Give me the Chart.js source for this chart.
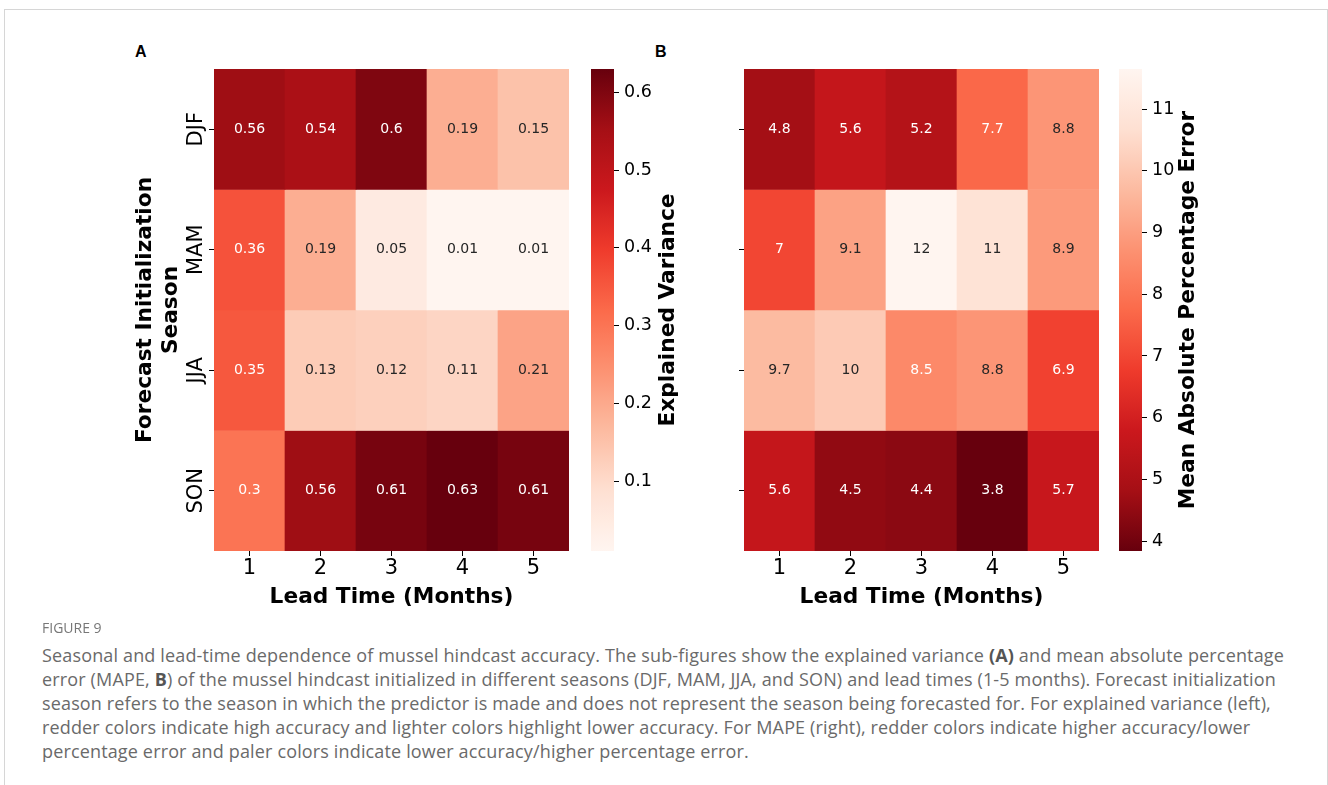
<!DOCTYPE html>
<html>
<head>
<meta charset="utf-8">
<script src="https://cdn.jsdelivr.net/npm/chart.js@4.4.0/dist/chart.umd.min.js"></script>
<style>
  html, body { margin: 0; padding: 0; background: #fff; }
  body { width: 1328px; height: 785px; position: relative; overflow: hidden; }
  .frame { position: absolute; left: 4px; top: 9px; width: 1324px; height: 800px; border: 1px solid #d6d6d6; box-sizing: border-box; }
  canvas { position: absolute; }
  .letter { position: absolute; font-family: "Liberation Sans", Arial, sans-serif; font-weight: bold; font-size: 16px; color: #000; line-height: 16px; }
  .fig-no { position: absolute; left: 42px; top: 618px; font-family: "Open Sans", sans-serif; font-size: 14px; color: #777; line-height: 20px; }
  .caption { position: absolute; left: 42px; top: 643px; font-family: "Open Sans", sans-serif; font-size: 18px; letter-spacing: 0.15px; color: #6a6a6a; line-height: 24px; white-space: nowrap; }
  .caption b { color: #555; }
</style>
</head>
<body>
<div class="frame"></div>
<div class="letter" style="left:135px; top:44px;">A</div>
<div class="letter" style="left:655px; top:44px;">B</div>

<canvas id="heatA" width="480" height="590" style="left:100px; top:40px;"></canvas>
<canvas id="barA" width="110" height="590" style="left:584px; top:40px;"></canvas>
<canvas id="heatB" width="480" height="590" style="left:630px; top:40px;"></canvas>
<canvas id="barB" width="110" height="590" style="left:1112px; top:40px;"></canvas>

<div class="fig-no">FIGURE 9</div>
<div class="caption">
Seasonal and lead-time dependence of mussel hindcast accuracy. The sub-figures show the explained variance <b>(A)</b> and mean absolute percentage<br>
error (MAPE, <b>B</b>) of the mussel hindcast initialized in different seasons (DJF, MAM, JJA, and SON) and lead times (1-5 months). Forecast initialization<br>
season refers to the season in which the predictor is made and does not represent the season being forecasted for. For explained variance (left),<br>
redder colors indicate high accuracy and lighter colors highlight lower accuracy. For MAPE (right), redder colors indicate higher accuracy/lower<br>
percentage error and paler colors indicate lower accuracy/higher percentage error.
</div>

<script>
// Forecast initialization seasons (rows) and lead times (columns)
const SEASONS = ["DJF", "MAM", "JJA", "SON"];
const LEADS = ["1", "2", "3", "4", "5"];

// Explained variance, one array per season
const ev_djf = [0.56, 0.54, 0.60, 0.19, 0.15];
const ev_mam = [0.36, 0.19, 0.05, 0.01, 0.01];
const ev_jja = [0.35, 0.13, 0.12, 0.11, 0.21];
const ev_son = [0.30, 0.56, 0.61, 0.63, 0.61];

// Mean absolute percentage error, one array per season
const mape_djf = [4.8, 5.6, 5.2, 7.7, 8.8];
const mape_mam = [7.0, 9.1, 11.65, 10.8, 8.9];
const mape_jja = [9.7, 10.1, 8.5, 8.8, 6.9];
const mape_son = [5.6, 4.5, 4.4, 3.84, 5.7];

// Colorbar tick labels
const EV_TICKS = [0.1, 0.2, 0.3, 0.4, 0.5, 0.6];
const MAPE_TICKS = [4, 5, 6, 7, 8, 9, 10, 11];

const EV_ROWS = [ev_djf, ev_mam, ev_jja, ev_son];
const MAPE_ROWS = [mape_djf, mape_mam, mape_jja, mape_son];

// matplotlib "Reds" anchor colours
const REDS = [[255,245,240],[254,224,210],[252,187,161],[252,146,114],[251,106,74],
              [239,59,44],[203,24,29],[165,15,21],[103,0,13]];

const TITLE_SIZE = 21.7;

Chart.defaults.font.family = "'DejaVu Sans', sans-serif";
Chart.defaults.color = "#000";

function redsRgb(t) {
  t = Math.max(0, Math.min(1, t));
  let p = t * (REDS.length - 1);
  let i = Math.min(REDS.length - 2, Math.floor(p));
  let f = p - i;
  return REDS[i].map((c, k) => Math.round(c + (REDS[i + 1][k] - c) * f));
}

function rgbStr(c) { return "rgb(" + c[0] + "," + c[1] + "," + c[2] + ")"; }

// same rule seaborn uses to pick the annotation colour
function luminance(c) {
  let lin = c.map(v => { v = v / 255; return v <= 0.03928 ? v / 12.92 : Math.pow((v + 0.055) / 1.055, 2.4); });
  return 0.2126 * lin[0] + 0.7152 * lin[1] + 0.0722 * lin[2];
}

function fmt2g(v) { return String(Number(v.toPrecision(2))); }

function rangeOf(rows) {
  let all = rows.flat();
  return [Math.min(...all), Math.max(...all)];
}

function makeHeatmap(id, rows, cellRgb, showLabels) {
  const cellText = {
    id: "cellText",
    afterDatasetsDraw(chart) {
      const ctx = chart.ctx;
      ctx.save();
      ctx.font = "14px 'DejaVu Sans'";
      ctx.textAlign = "center";
      ctx.textBaseline = "middle";
      rows.forEach((row, r) => {
        chart.getDatasetMeta(r).data.forEach((bar, c) => {
          const p = bar.getProps(["x", "y", "base"], true);
          const col = cellRgb(row[c]);
          ctx.fillStyle = luminance(col) > 0.408 ? "rgb(38,38,38)" : "#fff";
          ctx.fillText(fmt2g(row[c]), p.x, (p.y + p.base) / 2);
        });
      });
      ctx.restore();
    }
  };

  return new Chart(document.getElementById(id), {
    type: "bar",
    data: {
      labels: LEADS,
      datasets: rows.map((row, r) => ({
        data: row.map(() => [r, r + 1]),
        backgroundColor: row.map(v => rgbStr(cellRgb(v))),
        borderWidth: 0,
        barPercentage: 1,
        categoryPercentage: 1,
        grouped: false
      }))
    },
    options: {
      responsive: false,
      animation: false,
      layout: { padding: { left: 0, right: 11, top: 29, bottom: 0 } },
      plugins: { legend: { display: false }, tooltip: { enabled: false } },
      scales: {
        x: {
          grid: { offset: false, drawOnChartArea: false, drawTicks: true, tickLength: 5, color: "#000" },
          border: { display: false },
          ticks: { font: { size: 21 }, padding: 0, maxRotation: 0 },
          title: { display: true, text: "Lead Time (Months)", font: { size: TITLE_SIZE, weight: "bold", lineHeight: 1.2 }, padding: { top: 0, bottom: 20 } },
          afterFit: s => { s.height = 79; }
        },
        y: {
          min: 0, max: SEASONS.length, reverse: true,
          grid: { drawOnChartArea: false, drawTicks: true, tickLength: 5, color: "#000" },
          border: { display: false },
          afterBuildTicks: s => { s.ticks = SEASONS.map((n, i) => ({ value: i + 0.5 })); },
          ticks: {
            font: { size: 21 }, minRotation: 90, maxRotation: 90, crossAlign: "center", padding: -13,
            callback: (v, i) => showLabels ? SEASONS[i] : ""
          },
          title: {
            display: showLabels, text: ["Forecast Initialization", "Season"],
            font: { size: TITLE_SIZE, weight: "bold", lineHeight: 1.2 }, padding: { top: 32, bottom: 0 }
          },
          afterFit: s => { s.width = 114; }
        }
      }
    },
    plugins: [cellText]
  });
}

function makeColorbar(id, range, ticks, reversed, label, labelOffset) {
  const cbLabel = {
    id: "cbLabel",
    afterDraw(chart) {
      const ctx = chart.ctx;
      const a = chart.chartArea;
      ctx.save();
      ctx.translate(a.right + labelOffset, (a.top + a.bottom) / 2);
      ctx.rotate(-Math.PI / 2);
      ctx.font = "bold " + TITLE_SIZE + "px 'DejaVu Sans'";
      ctx.textAlign = "center";
      ctx.textBaseline = "middle";
      ctx.fillStyle = "#000";
      ctx.fillText(label, 0, 0);
      ctx.restore();
    }
  };

  return new Chart(document.getElementById(id), {
    type: "bar",
    data: {
      labels: [""],
      datasets: [{
        data: [[range[0], range[1]]],
        borderWidth: 0,
        barPercentage: 1,
        categoryPercentage: 1,
        backgroundColor: (context) => {
          const area = context.chart.chartArea;
          if (!area) return null;
          const g = context.chart.ctx.createLinearGradient(0, area.bottom, 0, area.top);
          for (let k = 0; k <= 32; k++) {
            let t = k / 32;
            g.addColorStop(t, rgbStr(redsRgb(reversed ? 1 - t : t)));
          }
          return g;
        }
      }]
    },
    options: {
      responsive: false,
      animation: false,
      layout: { padding: { left: 7, right: 0, top: 29, bottom: 79 } },
      plugins: { legend: { display: false }, tooltip: { enabled: false } },
      scales: {
        x: { display: false },
        y: {
          position: "right",
          min: range[0], max: range[1],
          grid: { drawOnChartArea: false, drawTicks: true, tickLength: 5, color: "#000" },
          border: { display: false },
          afterBuildTicks: s => { s.ticks = ticks.map(v => ({ value: v })); },
          ticks: { font: { size: 17.5 }, padding: 5, callback: v => String(v) },
          afterFit: s => { s.width = 110 - 7 - 23; }
        }
      }
    },
    plugins: [cbLabel]
  });
}

const evRange = rangeOf(EV_ROWS);
const mapeRange = rangeOf(MAPE_ROWS);

makeHeatmap("heatA", EV_ROWS, v => redsRgb((v - evRange[0]) / (evRange[1] - evRange[0])), true);
makeColorbar("barA", evRange, EV_TICKS, false, "Explained Variance", 54);

makeHeatmap("heatB", MAPE_ROWS, v => redsRgb(1 - (v - mapeRange[0]) / (mapeRange[1] - mapeRange[0])), false);
makeColorbar("barB", mapeRange, MAPE_TICKS, true, "Mean Absolute Percentage Error", 46);
</script>
</body>
</html>
